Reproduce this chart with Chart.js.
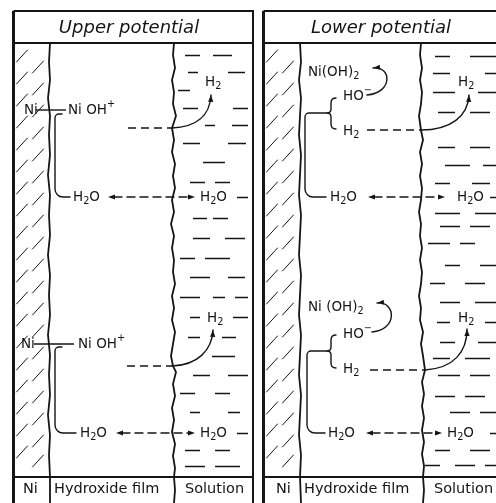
<!DOCTYPE html>
<html>
<head>
<meta charset="utf-8">
<script src="https://cdn.jsdelivr.net/npm/chart.js@4.4.1/dist/chart.umd.min.js"></script>
<style>
  html, body { margin: 0; padding: 0; background: #fff; }
  canvas { display: block; }
</style>
</head>
<body>
<canvas id="diagram" width="496" height="503"></canvas>
<script>
const FONT = '"DejaVu Sans", sans-serif';
const INK = "#151515";

// panels
const panelTitles = ["Upper potential", "Lower potential"];
const panelTitleX = [129, 381];
const panelTitleY = 28;
const panelLeft = [13.5, 263.5];
const panelRight = [253, 530];
const panelTop = 11;
const panelBottom = 515;
const titleBarY = 43;
const footerY = 477;

const footerLabels = ["Ni", "Hydroxide film", "Solution"];
const footerLabelX = [[23, 54, 185], [276, 304, 434]];
const footerLabelY = 489;

// Ni | film boundary
const metalEdges = [
    [[50,43],[49,62],[50,80],[48,98],[50,116],[49,135],[50,155],[48,175],[50,195],[49,215],[50,235],[48,255],[50,275],[49,295],[50,315],[48,335],[50,355],[49,375],[50,395],[48,415],[50,435],[49,455],[50,477],[50,503]],
    [[300,43],[301,62],[299,80],[301,98],[300,116],[299,135],[301,155],[300,175],[299,195],[301,215],[300,235],[299,255],[301,275],[300,295],[299,315],[301,335],[300,355],[299,375],[301,395],[300,415],[299,435],[301,455],[300,477],[301,503]],
];
// film | solution boundary
const solutionEdges = [
    [[174,43],[173,55],[175,68],[172,80],[174,92],[173,104],[176,116],[172,128],[174,140],[172,152],[175,164],[173,176],[175,188],[172,200],[174,212],[171,224],[174,236],[172,248],[174,260],[173,272],[175,284],[172,296],[174,308],[172,320],[175,332],[173,344],[171,356],[173,366],[176,372],[173,384],[175,396],[172,408],[174,420],[172,432],[175,444],[173,456],[175,468],[174,477],[175,490],[174,503]],
    [[421,43],[420,55],[422,68],[420,80],[422,92],[421,104],[419,116],[421,130],[423,140],[420,152],[422,164],[420,176],[422,188],[421,200],[419,212],[421,224],[420,236],[422,248],[420,260],[422,272],[421,284],[419,296],[421,308],[420,320],[423,332],[421,344],[423,356],[425,370],[422,382],[424,394],[422,406],[424,418],[422,430],[424,442],[422,454],[424,466],[423,477],[424,490],[423,503]],
];

// hatching rows in the Ni strip
const hatchRows = [62, 84, 106, 128, 150, 172, 194, 216, 238, 260, 282, 304, 326, 348, 370, 392, 414, 436, 458, 478];

// short dashes in the solution: [y, x1, x2]
const solutionDashes = [
    [[55,185,200],[55,213,232],[72,188,198],[72,228,245],[90,178,190],[108,183,198],[108,233,248],[125,205,215],[125,232,248],
     [143,183,200],[143,228,246],[162,203,225],[182,190,205],[182,215,230],[197,237,248],[218,193,207],[218,213,228],[238,193,210],[238,225,245],[258,180,195],[258,205,230],
     [277,190,210],[277,228,245],[297,180,200],[297,213,225],[297,235,248],[317,190,200],[317,233,248],[337,188,200],[337,222,236],[356,212,235],[375,193,210],[375,228,248],
     [393,180,195],[393,215,230],[412,190,200],[412,228,240],[433,237,248],[450,185,200],[450,215,230],[466,185,205],[466,215,240]],
    [[56,435,450],[56,470,496],[73,433,450],[73,485,496],[92,433,455],[92,478,496],[112,438,455],[112,470,490],
     [147,438,455],[147,470,490],[165,445,470],[165,483,496],[183,435,450],[183,472,490],[197,490,496],[213,435,460],[213,475,496],[226,440,460],[226,470,490],[243,428,450],[243,460,475],
     [265,445,460],[265,480,496],[283,430,445],[283,465,485],[302,440,460],[302,475,496],[322,437,450],[322,485,496],[342,440,455],[342,478,496],[358,433,450],[358,465,490],[375,438,460],[375,470,490],
     [396,435,455],[396,465,485],[412,450,470],[412,480,496],[433,490,496],[450,435,450],[450,470,490],[465,425,440],[465,455,475],[465,485,496]],
];

// chemistry labels: [text, x, y]  (_ = subscript, ^ = superscript)
const labels = [
    ["Ni", 24, 110], ["Ni OH^+", 68, 110], ["H_2", 205, 82], ["H_2O", 73, 197], ["H_2O", 200, 197],
    ["Ni", 21, 344], ["Ni OH^+", 78, 344], ["H_2", 207, 318], ["H_2O", 80, 433], ["H_2O", 200, 433],
    ["Ni(OH)_2", 308, 72], ["HO^\u2212", 343, 96], ["H_2", 343, 131], ["H_2", 458, 82], ["H_2O", 330, 197], ["H_2O", 457, 197],
    ["Ni (OH)_2", 308, 307], ["HO^\u2212", 343, 334], ["H_2", 343, 369], ["H_2", 458, 318], ["H_2O", 328, 433], ["H_2O", 447, 433],
];

// Ni -- NiOH+ links
const niLinks = [[[36,110],[66,110]], [[34,344],[74,344]]];

// reaction brackets (rounded corners)
const brackets = [
    [[62,114],[55,114],[55,197],[70,197]],
    [[62,347],[55,347],[55,433],[76,433]],
    [[327,113],[305,113],[305,197],[326,197]],
    [[327,351],[307,351],[307,433],[325,433]],
];
// curly braces {  : [x, yTop, yMid, yBottom]
const braces = [[327, 98, 113, 129], [327, 335, 351, 368]];

// H2 release: dashed run then curved arrow
const h2Dashes = [[[128,128],[172,128]], [[127,366],[172,366]], [[367,130],[421,130]], [[370,370],[425,370]]];
const curvedArrows = [
    [[172,128],[196,127],[210,116],[211,95]],
    [[172,366],[198,365],[212,350],[213,330]],
    [[421,130],[451,130],[468,116],[469,95]],
    [[425,370],[454,368],[467,352],[467,329]],
    [[367,95],[393,93],[392,66],[373,68]],
    [[372,332],[398,330],[396,301],[377,303]],
];

// water exchange arrows: [y, leftTip, rightTip]
const waterArrows = [[197,108,195], [433,116,195], [197,368,445], [433,366,442]];

const pts = arr => arr.map(([x, y]) => ({ x, y }));
const lineSet = (arr, width, dash) => ({
    data: pts(arr), showLine: true, borderColor: INK, borderWidth: width || 1.5,
    borderDash: dash || [], pointRadius: 0, tension: 0, fill: false, clip: false,
});

const datasets = [];
panelLeft.forEach((L, i) => {
    const R = panelRight[i];
    datasets.push(lineSet([[L, panelBottom], [L, panelTop]], 3));
    datasets.push(lineSet([[L, panelTop], [R, panelTop], [R, panelBottom]], 2));
    datasets.push(lineSet([[L, titleBarY], [R, titleBarY]], 2));
    datasets.push(lineSet([[L, footerY], [R, footerY]], 1.8));
    datasets.push(lineSet(metalEdges[i], 1.8));
    datasets.push(lineSet(solutionEdges[i], 1.8));
});
niLinks.forEach(l => datasets.push(lineSet(l, 1.4)));
h2Dashes.forEach(l => datasets.push(lineSet(l, 1.4, [8, 5])));

function richText(ctx, str, x, y, size) {
    let cx = x;
    for (let i = 0; i < str.length; i++) {
        let ch = str[i], mode = "n";
        if (ch === "_" || ch === "^") { mode = ch; ch = str[++i]; }
        const s = mode === "n" ? size : size * 0.72;
        ctx.font = `${s}px ${FONT}`;
        const dy = mode === "_" ? size * 0.3 : mode === "^" ? -size * 0.4 : 0;
        ctx.fillText(ch, cx, y + dy);
        cx += ctx.measureText(ch).width;
    }
}

function arrowHead(ctx, tip, from, len, half) {
    const a = Math.atan2(tip[1] - from[1], tip[0] - from[0]);
    ctx.beginPath();
    ctx.moveTo(tip[0], tip[1]);
    ctx.lineTo(tip[0] - len * Math.cos(a) + half * Math.sin(a), tip[1] - len * Math.sin(a) - half * Math.cos(a));
    ctx.lineTo(tip[0] - len * Math.cos(a) - half * Math.sin(a), tip[1] - len * Math.sin(a) + half * Math.cos(a));
    ctx.closePath();
    ctx.fill();
}

const diagramPlugin = {
    id: "diagram",
    afterDatasetsDraw(chart) {
        const ctx = chart.ctx;
        const sx = chart.scales.x, sy = chart.scales.y;
        const P = ([x, y]) => [sx.getPixelForValue(x), sy.getPixelForValue(y)];
        ctx.save();
        ctx.strokeStyle = INK;
        ctx.fillStyle = INK;
        ctx.lineCap = "round";
        ctx.lineJoin = "round";

        // hatching
        ctx.lineWidth = 1;
        panelLeft.forEach(L => {
            hatchRows.forEach(y => {
                [[L + 3, y], [L + 19, y - 11]].forEach(s => {
                    if (s[1] - 12 < titleBarY + 2 || s[1] > footerY - 2) return;
                    const a = P(s), b = P([s[0] + 11, s[1] - 12]);
                    ctx.beginPath(); ctx.moveTo(a[0], a[1]); ctx.lineTo(b[0], b[1]); ctx.stroke();
                });
            });
        });

        // solution dashes
        ctx.lineWidth = 1.5;
        ctx.lineCap = "butt";
        solutionDashes.forEach(rows => rows.forEach(([y, x1, x2]) => {
            const a = P([x1, y]), b = P([x2, y]);
            ctx.beginPath(); ctx.moveTo(a[0], a[1] + 0.5); ctx.lineTo(b[0], b[1] + 0.5); ctx.stroke();
        }));
        ctx.lineCap = "round";

        // brackets with rounded corners
        ctx.lineWidth = 1.4;
        brackets.forEach(b => {
            const p = b.map(P);
            ctx.beginPath();
            ctx.moveTo(p[0][0], p[0][1]);
            for (let i = 1; i < p.length - 1; i++) ctx.arcTo(p[i][0], p[i][1], p[i + 1][0], p[i + 1][1], i === 1 ? 4 : 8);
            ctx.lineTo(p[p.length - 1][0], p[p.length - 1][1]);
            ctx.stroke();
        });

        // curly braces
        braces.forEach(([x, t, m, b]) => {
            const A = P([x + 9, t]), B = P([x + 4, t + 5]), C = P([x + 4, m - 4]), D = P([x, m]);
            const E = P([x + 4, m + 4]), F = P([x + 4, b - 5]), G = P([x + 9, b]);
            ctx.beginPath();
            ctx.moveTo(A[0], A[1]);
            ctx.quadraticCurveTo(B[0], B[1] - 5, B[0], B[1]);
            ctx.lineTo(C[0], C[1]);
            ctx.quadraticCurveTo(C[0], D[1], D[0], D[1]);
            ctx.quadraticCurveTo(E[0], D[1], E[0], E[1]);
            ctx.lineTo(F[0], F[1]);
            ctx.quadraticCurveTo(F[0], G[1], G[0], G[1]);
            ctx.stroke();
        });

        // curved arrows
        curvedArrows.forEach(c => {
            const [p0, c1, c2, p1] = c.map(P);
            ctx.beginPath();
            ctx.moveTo(p0[0], p0[1]);
            ctx.bezierCurveTo(c1[0], c1[1], c2[0], c2[1], p1[0], p1[1]);
            ctx.stroke();
            arrowHead(ctx, p1, c2, 7, 2.6);
        });

        // water exchange arrows
        waterArrows.forEach(([y, l, r]) => {
            const a = P([l + 6, y]), b = P([r - 6, y]);
            ctx.save();
            ctx.setLineDash([8, 5]);
            ctx.beginPath(); ctx.moveTo(a[0], a[1]); ctx.lineTo(b[0], b[1]); ctx.stroke();
            ctx.restore();
            arrowHead(ctx, P([l, y]), P([r, y]), 7, 2.6);
            arrowHead(ctx, P([r, y]), P([l, y]), 7, 2.6);
        });

        // labels
        ctx.textBaseline = "middle";
        ctx.textAlign = "left";
        labels.forEach(([t, x, y]) => {
            const p = P([x, y]);
            richText(ctx, t, p[0], p[1], 13.5);
        });

        // titles
        ctx.textAlign = "center";
        ctx.font = `oblique 18px ${FONT}`;
        panelTitles.forEach((t, i) => {
            const p = P([panelTitleX[i], panelTitleY]);
            ctx.fillText(t, p[0], p[1]);
        });

        // footer
        ctx.textAlign = "left";
        ctx.font = `14.5px ${FONT}`;
        footerLabelX.forEach(xs => xs.forEach((x, j) => {
            const p = P([x, footerLabelY]);
            ctx.fillText(footerLabels[j], p[0], p[1]);
        }));
        ctx.restore();
    },
};

new Chart(document.getElementById("diagram"), {
    type: "scatter",
    data: { datasets },
    options: {
        responsive: false,
        animation: false,
        devicePixelRatio: 1,
        events: [],
        layout: { padding: 0 },
        plugins: { legend: { display: false }, tooltip: { enabled: false } },
        scales: {
            x: { type: "linear", min: 0, max: 496, display: false },
            y: { type: "linear", min: 0, max: 503, reverse: true, display: false },
        },
    },
    plugins: [diagramPlugin],
});
</script>
</body>
</html>
